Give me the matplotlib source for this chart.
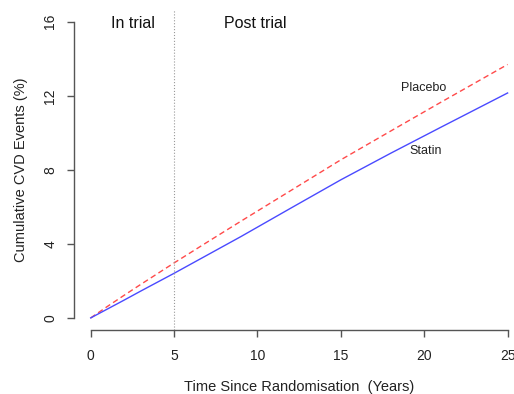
import matplotlib
matplotlib.use('Agg')
import matplotlib.pyplot as plt

plt.rcParams['font.family'] = ['Liberation Sans', 'DejaVu Sans']

# cumulative CVD events (%)
years = [0, 1, 2, 3, 4, 5, 7, 9, 12, 15, 18, 21, 25]
placebo = [0, 0.62, 1.22, 1.81, 2.39, 2.97, 4.10, 5.22, 6.88, 8.54, 10.10, 11.65, 13.69]
statin = [0, 0.48, 0.96, 1.45, 1.93, 2.41, 3.40, 4.39, 5.93, 7.46, 8.90, 10.30, 12.15]

xticks = [0, 5, 10, 15, 20, 25]
yticks = [0, 4, 8, 12, 16]
trial_end = 5

axcol = '#555555'
txtcol = '#222222'

fig = plt.figure(figsize=(5.14, 3.94), dpi=100)
ax = fig.add_axes([0.144, 0.163, 0.876, 0.812])

ax.plot(years, placebo, color='#ff4a4a', lw=1.0, ls=(0, (4, 2.5)))
ax.plot(years, statin, color='#4a4aff', lw=1.0)
ax.axvline(trial_end, color='#999999', lw=0.8, ls=':')

ax.set_xlim(-1, 26)
ax.set_ylim(-0.64, 16.64)
for s in ['top', 'right']:
    ax.spines[s].set_visible(False)
ax.spines['left'].set_bounds(0, 16)
ax.spines['bottom'].set_bounds(0, 25)
for s in ['left', 'bottom']:
    ax.spines[s].set_color(axcol)
    ax.spines[s].set_linewidth(1.0)

ax.set_xticks(xticks)
ax.set_yticks(yticks)
ax.tick_params(axis='both', direction='out', length=5, width=1.0, color=axcol,
               labelsize=10, labelcolor=txtcol)
ax.tick_params(axis='x', pad=9)
ax.tick_params(axis='y', pad=7)
for lab in ax.get_yticklabels():
    lab.set_rotation(90)
    lab.set_va('center')

ax.set_xlabel('Time Since Randomisation  (Years)', fontsize=10.5, color=txtcol, labelpad=12)
ax.set_ylabel('Cumulative CVD Events (%)', fontsize=10.5, color=txtcol, labelpad=11)

ax.text(2.52, 15.9, 'In trial', ha='center', va='center', fontsize=11.5, color='#111111')
ax.text(9.89, 15.9, 'Post trial', ha='center', va='center', fontsize=11.5, color='#111111')
ax.text(19.96, 12.41, 'Placebo', ha='center', va='center', fontsize=9, color=txtcol)
ax.text(20.08, 9.0, 'Statin', ha='center', va='center', fontsize=9, color=txtcol)

fig.savefig('out.png', dpi=100)
